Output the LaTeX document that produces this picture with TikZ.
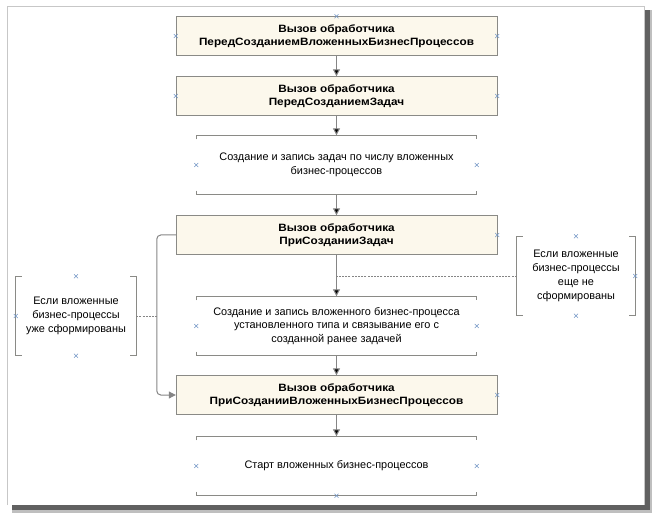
\documentclass[tikz,border=0pt]{standalone}
\usepackage{fontspec}
\setmainfont{Liberation Sans}
\newfontfamily\hdfont[FakeStretch=1.11]{Liberation Sans}
\usetikzlibrary{positioning, arrows.meta}

\definecolor{boxfill}{HTML}{FCF8EC}
\definecolor{boxline}{HTML}{8A8A86}
\definecolor{flowgray}{HTML}{858585}
\definecolor{markblue}{HTML}{7094C4}

\begin{document}
\begin{tikzpicture}[x=1pt,y=-1pt,node distance=60pt,on grid,
    font=\fontsize{10.9}{13.8}\selectfont,
    handler/.style={draw=boxline, fill=boxfill, minimum width=321pt, minimum height=39pt,
      align=center, font=\fontsize{10.6}{13.5}\hdfont\bfseries},
    action/.style={minimum width=280pt, minimum height=59pt, align=center},
    cond/.style={minimum width=120pt, minimum height=79pt, align=center},
    flow/.style={draw=flowgray, line width=1pt, -{Triangle[width=7pt,length=7pt]}},
    hint/.style={draw=flowgray, line width=0.6pt, dash pattern=on 2pt off 1.2pt},
    rule/.style={draw=boxline, line width=0.8pt},
    xmk/.style={draw=markblue, line width=0.5pt}]
    \useasboundingbox (0,0) rectangle (655,518);

    % frame with shadow
    \fill[black!25] (12,505) rectangle (652,513);
    \fill[black!25] (644,10) rectangle (652,513);
    \fill[black!62] (12,505) rectangle (650,510);
    \fill[black!62] (644,10) rectangle (650,510);
    \draw[black!22, line width=0.8pt] (7,505) |- (644,6) -- (644,505);

    \node[handler] (h1) at (336.5,36) {Вызов обработчика\\ПередСозданиемВложенныхБизнесПроцессов};
    \node[handler] (h2) [below=60pt of h1] {Вызов обработчика\\ПередСозданиемЗадач};
    \node[action] (b3) [below=69pt of h2] {Создание и запись задач по числу вложенных\\бизнес-процессов};
    \node[handler] (h4) [below=70pt of b3] {Вызов обработчика\\ПриСозданииЗадач};
    \node[action] (b5) [below=91pt of h4] {Создание и запись вложенного бизнес-процесса\\установленного типа и связывание его с\\созданной ранее задачей};
    \node[handler] (h6) [below=69pt of b5] {Вызов обработчика\\ПриСозданииВложенныхБизнесПроцессов};
    \node[action] (b7) [below=71pt of h6] {Старт вложенных бизнес-процессов};

    \node[cond] (n1) at (76,316) {Если вложенные\\бизнес-процессы\\уже сформированы};
    \node[cond, minimum width=118pt] (n2) at (576,276) {Если вложенные\\бизнес-процессы\\еще не\\сформированы};

    % brackets
    \foreach \n in {b3,b5,b7}
      \draw[rule] ([yshift=-4pt]\n.north west) -- (\n.north west) -- (\n.north east) -- ([yshift=-4pt]\n.north east)
                  ([yshift=4pt]\n.south west) -- (\n.south west) -- (\n.south east) -- ([yshift=4pt]\n.south east);
    \foreach \n in {n1,n2}
      \draw[rule] ([xshift=6pt]\n.north west) -- (\n.north west) -- (\n.south west) -- ([xshift=6pt]\n.south west)
                  ([xshift=-6pt]\n.north east) -- (\n.north east) -- (\n.south east) -- ([xshift=-6pt]\n.south east);

    \path[flow]
    (h1) edge (h2)
    (h2) edge (b3)
    (b3) edge (h4)
    (h4) edge (b5)
    (b5) edge (h6)
    (h6) edge (b7)
    ;
    \coordinate (lp) at ([xshift=-19pt]h4.west);
    \draw[flow, rounded corners=4pt] (h4.west) -- (lp) |- (h6.west);

    \draw[hint] (n1.east) -- (n1.east -| lp);
    \draw[hint] (n2.west) -- (n2.west -| h4.south);

    % connection marks
    \foreach \p in {h1.north, h1.west, h1.east, h2.west, h2.east, b3.west, b3.east,
                    h4.east, b5.west, b5.east, h6.east, b7.west, b7.east, b7.south,
                    n1.north, n1.south, n1.west, n2.north, n2.south, n2.east}
      \draw[xmk] (\p) +(-2pt,-2pt) -- +(2pt,2pt) +(-2pt,2pt) -- +(2pt,-2pt);
\end{tikzpicture}
\end{document}
